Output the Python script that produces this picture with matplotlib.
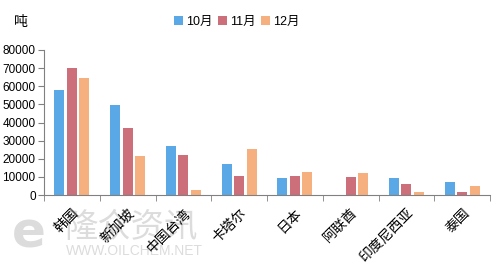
import matplotlib
matplotlib.use("Agg")
import matplotlib.pyplot as plt
import numpy as np

plt.rcParams['font.family'] = ['Liberation Sans', 'Noto Sans CJK SC', 'DejaVu Sans']

# 数据
countries = ['韩国', '新加坡', '中国台湾', '卡塔尔', '日本', '阿联酋', '印度尼西亚', '泰国']
months = ['10月', '11月', '12月']
oct_vals = [58000, 49700, 27000, 17100, 9400, 0, 9400, 7200]
nov_vals = [70000, 36800, 22000, 10500, 10500, 9900, 6100, 1700]
dec_vals = [64500, 21500, 2800, 25200, 12700, 12200, 1700, 5000]
colors = ['#5AA9E6', '#CD6E7B', '#F6B080']

fig = plt.figure(figsize=(4.92, 2.65), dpi=100)
ax = fig.add_axes([44 / 492, 70 / 265, 446 / 492, 145 / 265])

x = np.arange(len(countries))
w = 0.18
step = 0.225
for i, (vals, lab) in enumerate(zip([oct_vals, nov_vals, dec_vals], months)):
    ax.bar(x + (i - 1) * step, vals, width=w, color=colors[i], label=lab, zorder=2)

ax.set_xlim(-0.5, len(countries) - 0.5)
ax.set_ylim(0, 80000)
ax.set_yticks(np.arange(0, 80001, 10000))
ax.tick_params(axis='y', labelsize=8.5, length=4, color='#808080', pad=2)

ax.set_xticks(x)
ax.set_xticklabels(countries, rotation=45, ha='right', rotation_mode='anchor', fontsize=10)
ax.set_xticks(np.arange(-0.5, len(countries)), minor=True)
ax.tick_params(axis='x', which='major', length=0, pad=8)
ax.tick_params(axis='x', which='minor', length=4, color='#808080')

for s in ['top', 'right']:
    ax.spines[s].set_visible(False)
for s in ['left', 'bottom']:
    ax.spines[s].set_color('#808080')

fig.text(14 / 492, 1 - 22 / 265, '吨', fontsize=10, va='center')
ax.legend(loc='center', bbox_to_anchor=(237 / 492, 1 - 22 / 265), bbox_transform=fig.transFigure,
          ncol=3, frameon=False, fontsize=9, handlelength=0.7, handleheight=0.7,
          handletextpad=0.3, columnspacing=0.4)

# 水印
fig.text(12 / 492, 1 - 233 / 265, 'e', fontsize=36, color='#dcdcdc', va='center', zorder=-1,
         fontweight='bold', family='DejaVu Sans')
fig.text(64 / 492, 1 - 228 / 265, '隆众资讯', fontsize=24, color='#dcdcdc', va='center', zorder=-1)
fig.text(66 / 492, 1 - 251 / 265, 'WWW.OILCHEM.NET', fontsize=10, color='#dcdcdc', va='center', zorder=-1)

fig.savefig('out.png', dpi=100)
